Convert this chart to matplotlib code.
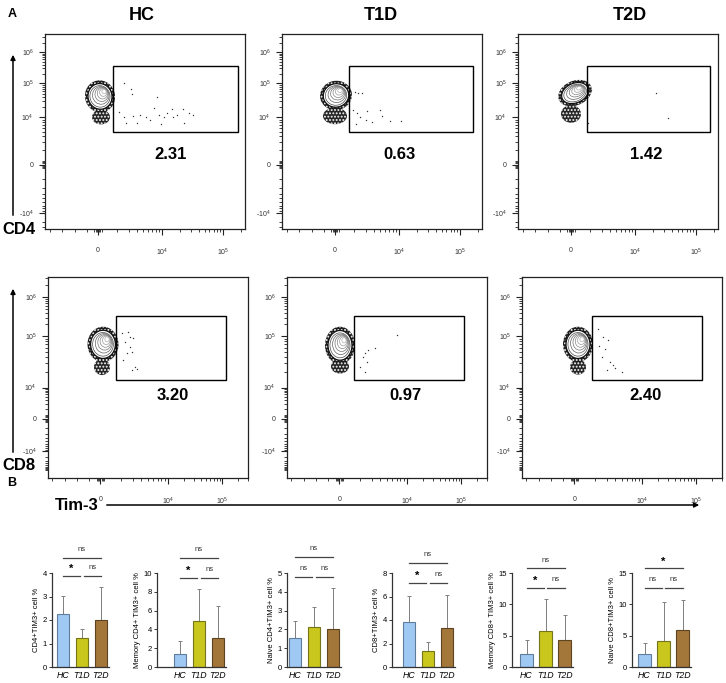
import matplotlib.pyplot as plt
from matplotlib.patches import Ellipse, Rectangle
import numpy as np

plt.rcParams['font.family'] = ['Liberation Sans', 'DejaVu Sans']
plt.rcParams['mathtext.fontset'] = 'custom'
plt.rcParams['mathtext.rm'] = 'Liberation Sans'
plt.rcParams['mathtext.it'] = 'Liberation Sans:italic'
plt.rcParams['mathtext.bf'] = 'Liberation Sans:bold'
plt.rcParams['hatch.linewidth'] = 0.9

W, H = 726, 683

# ---------------- data: flow panels (channel units 0-1000) ----------------
groups = ['HC', 'T1D', 'T2D']
markers = ['CD4', 'CD8']
gate_pct = [['2.31', '0.63', '1.42'],
            ['3.20', '0.97', '2.40']]

# events inside / around the Tim-3+ gate
ev_x = [
    [[395, 430, 435, 370, 395, 405, 440, 460, 475, 505, 525, 545, 560, 570, 580, 595, 610, 635, 640, 660, 690, 695, 720, 740],
     [365, 380, 400, 355, 375, 425, 490, 390, 420, 450, 500, 540, 595, 370],
     [690, 750, 350, 365]],
    [[370, 400, 410, 385, 425, 410, 395, 420, 435, 445, 420, 375],
     [550, 440, 405, 390, 380, 400, 365, 390],
     [380, 405, 430, 385, 415, 400, 440, 455, 465, 500, 425]],
]
ev_y = [
    [[749, 718, 692, 600, 574, 544, 579, 544, 585, 574, 559, 621, 677, 585, 538, 574, 595, 615, 574, 585, 615, 544, 595, 585],
     [703, 697, 697, 610, 595, 605, 610, 574, 559, 549, 579, 554, 554, 538],
     [697, 569, 544, 713]],
    [[721, 726, 701, 677, 697, 652, 622, 627, 552, 542, 537, 587],
     [711, 647, 637, 622, 602, 577, 552, 527],
     [741, 701, 687, 657, 642, 602, 577, 562, 547, 527, 537]],
]

# main population: centre, width, height, tilt ; dense tail: centre, width, height
pop_body = [[(275, 680, 150, 165, 10), (270, 685, 160, 150, 15), (285, 697, 175, 125, 25)],
            [(275, 665, 155, 175, 0), (265, 660, 150, 185, 0), (280, 665, 150, 175, 0)]]
pop_tail = [[(280, 574, 90, 75), (265, 580, 120, 85), (265, 590, 100, 90)],
            [(270, 552, 80, 80), (265, 555, 90, 70), (280, 552, 80, 75)]]

gates = [[(340, 500, 965, 836), (335, 500, 955, 836), (345, 500, 960, 836)],
         [(340, 490, 890, 806), (335, 490, 885, 806), (350, 490, 900, 806)]]

x_ticks = [[265, 585, 890], [262, 600, 870]]
x_tick_labels = ['0', r'$10^4$', r'$10^5$']
y_ticks = [[82, 330, 572, 747, 907], [133, 296, 450, 705, 900]]
y_tick_labels = [r'-$10^4$', '0', r'$10^4$', r'$10^5$', r'$10^6$']

# ---------------- data: bar charts ----------------
bar_ylabels = ['CD4+TIM3+ cell %', 'Memory CD4+ TIM3+ cell %', 'Naive CD4+TIM3+ cell %',
               'CD8+TIM3+ cell %', 'Memory CD8+ TIM3+ cell %', 'Naive CD8+TIM3+ cell %']
bar_means = [[2.25, 1.23, 2.0], [1.4, 4.9, 3.1], [1.55, 2.15, 2.0],
             [3.8, 1.35, 3.3], [2.1, 5.8, 4.3], [2.0, 4.1, 5.9]]
bar_upper = [[3.03, 1.6, 3.42], [2.8, 8.3, 6.5], [2.45, 3.2, 4.22],
             [6.05, 2.1, 6.15], [4.3, 10.8, 8.3], [3.9, 10.3, 10.7]]
bar_ymax = [4, 10, 5, 8, 15, 15]
bar_ystep = [1, 2, 1, 2, 5, 5]
# significance: HC-T1D, T1D-T2D, HC-T2D
bar_sig = [['*', 'ns', 'ns'], ['*', 'ns', 'ns'], ['ns', 'ns', 'ns'],
           ['*', 'ns', 'ns'], ['*', 'ns', 'ns'], ['ns', 'ns', '*']]

bar_colors = ['#9fc8f3', '#c9c61e', '#a3763a']
bar_edges = ['#5f7d9c', '#77751a', '#5e4421']


def rect(left, top, right, bottom):
    return [left / W, 1 - bottom / H, (right - left) / W, (bottom - top) / H]


def log_minor(a, b):
    return [a + (b - a) * np.log10(k) for k in range(2, 10)]


fig = plt.figure(figsize=(W / 100, H / 100), dpi=100)

# overlay for labels and arrows (figure pixel coords)
ov = fig.add_axes([0, 0, 1, 1])
ov.set_xlim(0, W)
ov.set_ylim(H, 0)
ov.axis('off')

ov.text(12, 14, 'A', fontsize=9, fontweight='bold', ha='center', va='center')
ov.text(12, 483, 'B', fontsize=9, fontweight='bold', ha='center', va='center')
for g, xc in zip(groups, [142, 381, 630]):
    ov.text(xc, 16, g, fontsize=13, fontweight='bold', ha='center', va='center')
ov.text(19, 230, 'CD4', fontsize=12, fontweight='bold', ha='center', va='center')
ov.text(19, 466, 'CD8', fontsize=12, fontweight='bold', ha='center', va='center')
ov.text(77, 505, 'Tim-3', fontsize=12, fontweight='bold', ha='center', va='center')
arrow = dict(arrowstyle='-|>', color='black', lw=1.1, mutation_scale=7)
ov.annotate('', xy=(13, 52), xytext=(13, 218), arrowprops=arrow)
ov.annotate('', xy=(13, 286), xytext=(13, 455), arrowprops=arrow)
ov.annotate('', xy=(702, 505), xytext=(104, 505), arrowprops=arrow)

row_top = [34, 277]
row_bot = [229, 478]
col_left = [[45, 282, 518], [48, 287, 522]]
label_x = [[630, 590, 640], [625, 590, 615]]
label_y = [380, 410]

for r in range(2):
    for c in range(3):
        L = col_left[r][c]
        ax = fig.add_axes(rect(L, row_top[r], L + 200, row_bot[r]))
        ax.set_xlim(0, 1000)
        ax.set_ylim(0, 1000)
        for s in ax.spines.values():
            s.set_linewidth(0.9)
            s.set_color('#222222')

        xt = x_ticks[r]
        yt = y_ticks[r]
        ax.set_xticks(xt)
        ax.set_xticklabels(x_tick_labels)
        ax.set_yticks(yt)
        ax.set_yticklabels(y_tick_labels)
        xm = list(np.arange(xt[0] - 55, 0, -62)) + [xt[0] + d for d in (-18, -12, -6, 6, 12, 18)]
        xm += log_minor(xt[0], xt[1]) + log_minor(xt[1], xt[2])
        xm += [v for v in log_minor(xt[2], xt[2] + (xt[2] - xt[1])) if v < 1000]
        ym = [yt[1] + d for d in (-18, -12, -6, 6, 12, 18)]
        ym += log_minor(yt[1], yt[0]) + log_minor(yt[1], yt[2])
        ym += log_minor(yt[2], yt[3]) + log_minor(yt[3], yt[4])
        ym += [v for v in log_minor(yt[4], yt[4] + (yt[4] - yt[3])) if v < 1000]
        ym += [v for v in log_minor(yt[0], yt[0] - (yt[1] - yt[0]) * 0.6) if v > 0]
        ax.set_xticks(xm, minor=True)
        ax.set_yticks(ym, minor=True)
        ax.tick_params(which='major', length=4, width=0.8, color='#222222',
                       labelsize=5, labelcolor='#333333')
        ax.tick_params(which='minor', length=2.2, width=0.6, color='#222222')
        ax.tick_params(axis='x', which='major', pad=9)
        ax.tick_params(axis='y', which='major', pad=4)

        # population contours: speckled fringe + tail, then grey density lines
        cx, cy, w, h, ang = pop_body[r][c]
        tx, ty, tw, th = pop_tail[r][c]
        ax.add_patch(Ellipse((tx, ty), tw, th, facecolor='#262626', edgecolor='white',
                             hatch='.....', lw=0, zorder=2))
        ax.add_patch(Ellipse((cx, cy), w, h, angle=ang, facecolor='#1e1e1e',
                             edgecolor='white', hatch='.....', lw=0, zorder=3))
        ax.add_patch(Ellipse((cx, cy), w * 0.8, h * 0.8, angle=ang, facecolor='white',
                             edgecolor='#111111', lw=0.9, zorder=4))
        shades = ['#4a4a4a', '#606060', '#747474', '#888888', '#9c9c9c', '#b0b0b0']
        for k, sc in enumerate([0.67, 0.55, 0.44, 0.34, 0.24, 0.14]):
            ax.add_patch(Ellipse((cx + 4 * k, cy + 5 * k), w * sc, h * sc, angle=ang,
                                 facecolor='none', edgecolor=shades[k], lw=0.5, zorder=5))

        # gate
        gx0, gy0, gx1, gy1 = gates[r][c]
        ax.add_patch(Rectangle((gx0, gy0), gx1 - gx0, gy1 - gy0, facecolor='none',
                               edgecolor='black', lw=1.0, zorder=6))
        ax.scatter(ev_x[r][c], ev_y[r][c], s=1.0, color='#333333', lw=0, zorder=6)
        ax.text(label_x[r][c], label_y[r], gate_pct[r][c], fontsize=12,
                fontweight='bold', ha='center', va='center')

# ---------------- bar charts ----------------
axis_px = [52, 157, 287, 392, 512, 632]
hc_px = [63, 180, 295, 409, 526.5, 644.5]
short_f = [0.97, 0.947, 0.957, 0.894, 0.84, 0.84]
long_f = [1.16, 1.16, 1.17, 1.11, 1.05, 1.05]
unit = 19.0

for i in range(6):
    left = axis_px[i]
    right = hc_px[i] + 2 * unit + 8
    ax = fig.add_axes(rect(left, 573, right, 667))
    x = np.arange(3)
    means = np.array(bar_means[i])
    up = np.array(bar_upper[i])
    ax.errorbar(x, means, yerr=[np.zeros(3), up - means], fmt='none', ecolor='#7f7f7f',
                elinewidth=0.7, capsize=1.6, capthick=0.7, zorder=1)
    ax.bar(x, means, width=0.68, color=bar_colors, edgecolor=bar_edges, linewidth=0.8, zorder=2)
    ax.set_xlim((left - hc_px[i]) / unit, (right - hc_px[i]) / unit)
    ax.set_ylim(0, bar_ymax[i])
    ax.set_yticks(np.arange(0, bar_ymax[i] + 0.01, bar_ystep[i]))
    ax.set_xticks(x)
    ax.set_xticklabels(groups, fontstyle='italic', fontsize=6.3)
    ax.spines['top'].set_visible(False)
    ax.spines['right'].set_visible(False)
    for s in ('left', 'bottom'):
        ax.spines[s].set_linewidth(0.9)
        ax.spines[s].set_color('#333333')
    ax.tick_params(axis='y', length=2.5, width=0.7, labelsize=5.5, pad=1, color='#333333')
    ax.tick_params(axis='x', length=0, pad=3)
    ax.set_ylabel(bar_ylabels[i], fontsize=5.5, labelpad=2)

    ym = bar_ymax[i]
    spans = [(0.0, 0.9, short_f[i]), (1.1, 2.0, short_f[i]), (0.0, 2.0, long_f[i])]
    for (a, b, f), lab in zip(spans, bar_sig[i]):
        yy = f * ym
        ax.plot([a, b], [yy, yy], color='#444444', lw=0.9, clip_on=False)
        if lab == '*':
            ax.text((a + b) / 2, yy + 0.02 * ym, '*', fontsize=8, fontweight='bold',
                    ha='center', va='bottom', clip_on=False)
        else:
            ax.text((a + b) / 2, yy + 0.05 * ym, 'ns', fontsize=5.5, color='#333333',
                    ha='center', va='bottom', clip_on=False)

fig.savefig('out.png', dpi=100)
